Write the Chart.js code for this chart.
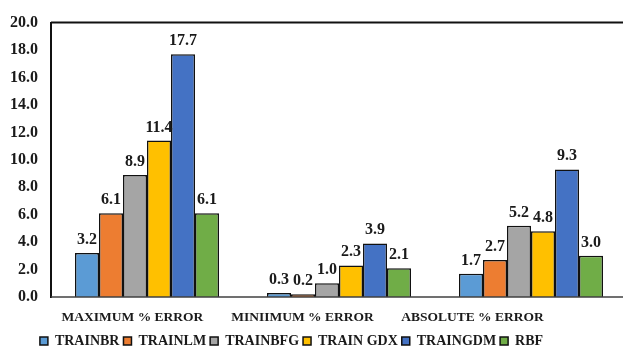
<!DOCTYPE html>
<html>
<head>
<meta charset="utf-8">
<script src="https://cdn.jsdelivr.net/npm/chart.js@4/dist/chart.umd.min.js"></script>
<style>
  html, body { margin: 0; padding: 0; background: #fff; }
  #wrap { width: 623px; height: 355px; overflow: hidden; position: relative; }
  canvas { display: block; }
</style>
</head>
<body>
<div id="wrap"><canvas id="c" width="630" height="355"></canvas></div>
<script>
// Error metrics per training algorithm
const categories = ['MAXIMUM % ERROR', 'MINIIMUM % ERROR', 'ABSOLUTE % ERROR'];
const seriesNames = ['TRAINBR', 'TRAINLM', 'TRAINBFG', 'TRAIN GDX', 'TRAINGDM', 'RBF'];
const trainbr  = [3.2, 0.3, 1.7];
const trainlm  = [6.1, 0.2, 2.7];
const trainbfg = [8.9, 1.0, 5.2];
const traingdx = [11.4, 2.3, 4.8];
const traingdm = [17.7, 3.9, 9.3];
const rbf      = [6.1, 2.1, 3.0];
const yTicks = [0, 2, 4, 6, 8, 10, 12, 14, 16, 18, 20];

const seriesValues = [trainbr, trainlm, trainbfg, traingdx, traingdm, rbf];
const seriesColors = ['#5B9BD5', '#ED7D31', '#A5A5A5', '#FFC000', '#4472C4', '#70AD47'];
const serif = "'Liberation Serif', 'Times New Roman', serif";
const ink = '#1a1a1a';

// value labels above each bar
const valueLabels = {
  id: 'valueLabels',
  afterDatasetsDraw(chart) {
    const ctx = chart.ctx;
    ctx.save();
    ctx.font = 'bold 16px ' + serif;
    ctx.fillStyle = ink;
    ctx.textAlign = 'center';
    ctx.textBaseline = 'alphabetic';
    chart.data.datasets.forEach((ds, i) => {
      chart.getDatasetMeta(i).data.forEach((bar, j) => {
        ctx.fillText(ds.data[j].toFixed(1), bar.x, bar.y - 9);
      });
    });
    ctx.restore();
  }
};

// frame around the plot area: dark top/right, grey baseline
const plotFrame = {
  id: 'plotFrame',
  afterDraw(chart) {
    const a = chart.chartArea, ctx = chart.ctx;
    ctx.save();
    ctx.strokeStyle = '#404040';
    ctx.lineWidth = 1.5;
    ctx.beginPath();
    ctx.moveTo(a.left, a.bottom);
    ctx.lineTo(a.right, a.bottom);
    ctx.stroke();
    ctx.strokeStyle = '#111';
    ctx.lineWidth = 2;
    ctx.beginPath();
    ctx.moveTo(a.left, a.top);
    ctx.lineTo(a.right, a.top);
    ctx.lineTo(a.right, a.bottom);
    ctx.stroke();
    ctx.restore();
  }
};

// nudge the legend row left
const legendShift = {
  id: 'legendShift',
  afterLayout(chart) {
    const lg = chart.legend;
    if (lg) { lg.left -= 22; lg.right -= 22; }
  }
};

new Chart(document.getElementById('c'), {
  type: 'bar',
  data: {
    labels: categories,
    datasets: seriesNames.map((name, i) => ({
      label: name,
      data: seriesValues[i],
      backgroundColor: seriesColors[i],
      borderColor: '#111',
      borderWidth: 1.5,
      categoryPercentage: 0.75,
      barPercentage: 1.0,
      xAxisID: 'x',
      yAxisID: 'y'
    }))
  },
  options: {
    responsive: false,
    animation: false,
    devicePixelRatio: 1,
    layout: { padding: { top: 13, right: 3, bottom: -3, left: 0 } },
    plugins: {
      legend: {
        position: 'bottom',
        labels: {
          boxWidth: 8,
          boxHeight: 8,
          padding: 4,
          color: ink,
          font: { family: serif, size: 14, weight: 'bold' }
        }
      },
      tooltip: { enabled: false }
    },
    scales: {
      x: {
        type: 'category',
        position: 'bottom',
        weight: 1,
        grid: { display: false, drawTicks: false },
        border: { display: false },
        ticks: { display: false }
      },
      x2: {
        type: 'linear',
        position: 'bottom',
        weight: 2,
        offset: false,
        bounds: 'data',
        min: -0.479,
        max: 2.909,
        grid: { display: false, drawTicks: false },
        border: { display: false },
        afterBuildTicks: (s) => { s.ticks = categories.map((_, i) => ({ value: i })); },
        afterFit: (s) => { s.height = 33; },
        ticks: {
          padding: 12,
          autoSkip: false,
          maxRotation: 0,
          color: ink,
          font: { family: serif, size: 13.5, weight: 'bold' },
          callback: (v) => categories[v]
        }
      },
      y: {
        min: 0,
        max: 20,
        afterBuildTicks: (s) => { s.ticks = yTicks.map(v => ({ value: v })); },
        afterFit: (s) => { s.width = 51; },
        grid: { display: false, drawTicks: false },
        border: { display: true, color: '#111', width: 2 },
        ticks: {
          padding: 13,
          color: ink,
          font: { family: serif, size: 16, weight: 'bold' },
          callback: (v) => Number(v).toFixed(1)
        }
      }
    }
  },
  plugins: [valueLabels, plotFrame, legendShift]
});
</script>
</body>
</html>
